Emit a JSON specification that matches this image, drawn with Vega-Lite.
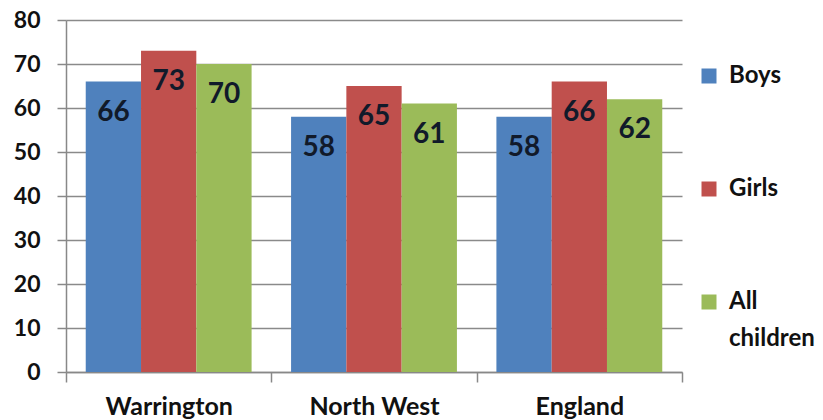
{
  "$schema": "https://vega.github.io/schema/vega-lite/v6.json",
  "width": 616,
  "height": 352,
  "autosize": {"type": "none"},
  "padding": {"left": 66, "top": 20, "right": 141, "bottom": 48},
  "background": "white",
  "config": {"view": {"stroke": null}, "font": "Lato", "style": {"guide-label": {"lineHeight": 37}}},
  "data": {
    "values": [
      {"area": "Warrington", "group": "Boys", "value": 66},
      {"area": "Warrington", "group": "Girls", "value": 73},
      {"area": "Warrington", "group": "All children", "value": 70},
      {"area": "North West", "group": "Boys", "value": 58},
      {"area": "North West", "group": "Girls", "value": 65},
      {"area": "North West", "group": "All children", "value": 61},
      {"area": "England", "group": "Boys", "value": 58},
      {"area": "England", "group": "Girls", "value": 66},
      {"area": "England", "group": "All children", "value": 62}
    ]
  },
  "encoding": {
    "x": {
      "field": "area", "type": "nominal", "sort": ["Warrington", "North West", "England"],
      "scale": {"paddingInner": 0, "paddingOuter": 0},
      "axis": {
        "title": null, "labelAngle": 0, "labelFont": "Lato", "labelFontWeight": "bold",
        "labelFontSize": 25, "labelColor": "#111111", "labelPadding": 12,
        "tickBand": "extent", "tickSize": 10, "tickWidth": 1.5, "tickColor": "#888888",
        "domainColor": "#888888", "domainWidth": 1.5, "grid": false
      }
    },
    "xOffset": {"field": "group", "type": "nominal", "sort": ["Boys", "Girls", "All children"], "scale": {"paddingInner": 0, "paddingOuter": 0.357}},
    "y": {
      "field": "value", "type": "quantitative",
      "scale": {"domain": [0, 80], "nice": false},
      "axis": {
        "title": null, "values": [0, 10, 20, 30, 40, 50, 60, 70, 80],
        "labelFont": "Lato", "labelFontWeight": "bold", "labelFontSize": 23, "labelColor": "#111111",
        "labelPadding": 17, "tickSize": 9, "tickWidth": 1.5, "tickColor": "#888888",
        "domainColor": "#888888", "domainWidth": 1.5,
        "gridColor": "#8a8a8a", "gridWidth": 1.5
      }
    }
  },
  "layer": [
    {
      "mark": {"type": "bar"},
      "encoding": {
        "color": {
          "field": "group", "type": "nominal", "sort": ["Boys", "Girls", "All children"],
          "scale": {"domain": ["Boys", "Girls", "All children"], "range": ["#4F81BD", "#C0504D", "#9BBB59"]},
          "legend": {
            "title": null, "orient": "none", "legendX": 631, "legendY": 44,
            "symbolType": "square", "symbolSize": 225, "symbolStrokeWidth": 0,
            "labelFont": "Lato", "labelFontWeight": "bold", "labelFontSize": 24, "labelColor": "#111111",
            "rowPadding": 89, "labelOffset": 8, "labelLimit": 200,
            "labelExpr": "datum.label == 'All children' ? ['All', 'children'] : datum.label"
          }
        }
      }
    },
    {
      "mark": {"type": "text", "baseline": "middle", "dy": 31, "font": "Lato", "fontWeight": "bold", "fontSize": 28, "color": "#111a2a"},
      "encoding": {"text": {"field": "value", "type": "quantitative"}}
    }
  ]
}
